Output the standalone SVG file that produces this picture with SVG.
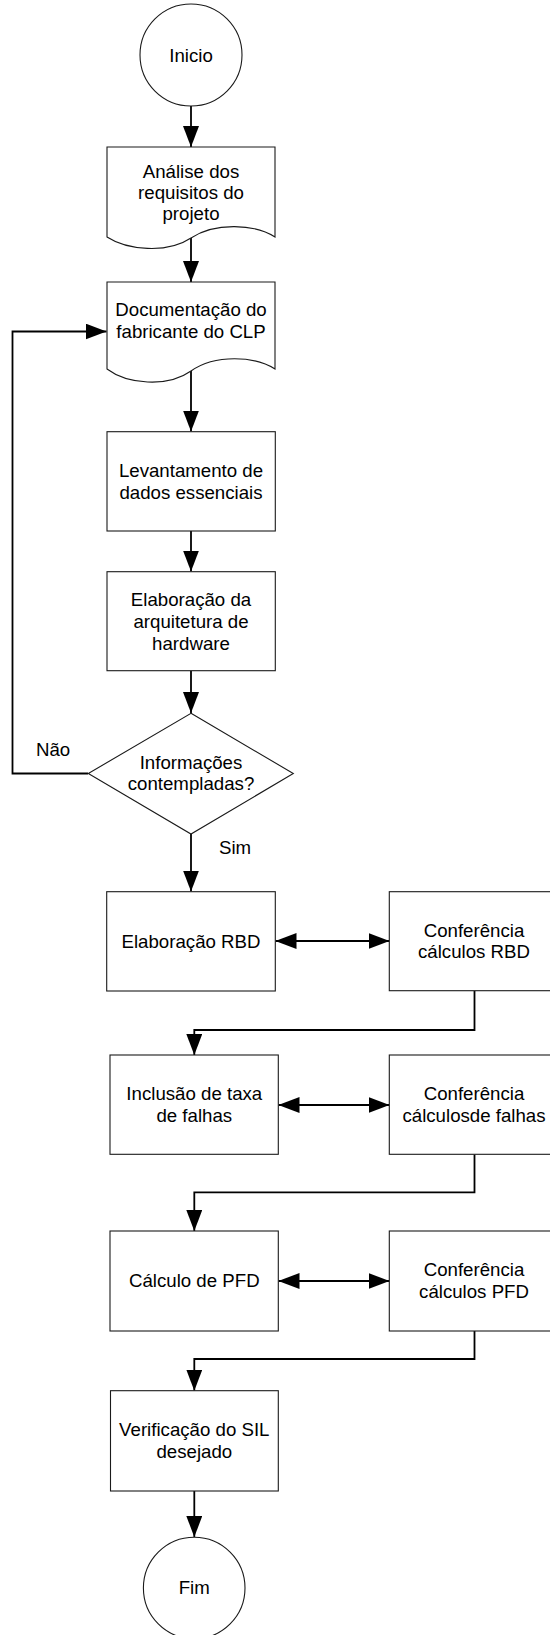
<svg xmlns="http://www.w3.org/2000/svg" width="550" height="1635" viewBox="0 0 550 1635">
  <style>
    .shape { fill: #ffffff; stroke: #1a1a1a; stroke-width: 1.1; }
    .wire { fill: none; stroke: #000000; stroke-width: 1.8; }
    .lbl { font-family: "Liberation Sans", Arial, sans-serif; font-size: 18.67px; fill: #000000; text-anchor: middle; }
    .side { font-family: "Liberation Sans", Arial, sans-serif; font-size: 18.67px; fill: #000000; }
  </style>
  <defs>
    <marker id="head" viewBox="0 0 21 16" refX="21" refY="8" markerWidth="21" markerHeight="16" markerUnits="userSpaceOnUse" orient="auto-start-reverse">
      <path d="M0,0 L21,8 L0,16 Z" fill="#000000"/>
    </marker>
  </defs>
  <rect width="550" height="1635" fill="#ffffff"/>

  <!-- connectors -->
  <g id="connectors">
    <path class="wire" d="M191,106 V147" marker-end="url(#head)"/>
    <path class="wire" d="M191,238 V282" marker-end="url(#head)"/>
    <path class="wire" d="M191,371 V431.5" marker-end="url(#head)"/>
    <path class="wire" d="M191,531 V571.5" marker-end="url(#head)"/>
    <path class="wire" d="M191,671 V713" marker-end="url(#head)"/>
    <path class="wire" d="M191,834 V891.5" marker-end="url(#head)"/>
    <path class="wire" d="M88,773.5 H12.5 V331.5 H106.5" marker-end="url(#head)"/>
    <path class="wire" d="M275.5,941 H389.5" marker-start="url(#head)" marker-end="url(#head)"/>
    <path class="wire" d="M474.5,991 V1030 H194.3 V1055" marker-end="url(#head)"/>
    <path class="wire" d="M278.5,1105 H389.5" marker-start="url(#head)" marker-end="url(#head)"/>
    <path class="wire" d="M474.5,1154.5 V1192.3 H194.3 V1231" marker-end="url(#head)"/>
    <path class="wire" d="M278.5,1281 H389.5" marker-start="url(#head)" marker-end="url(#head)"/>
    <path class="wire" d="M474.5,1331 V1359 H194.3 V1390.7" marker-end="url(#head)"/>
    <path class="wire" d="M194.3,1491 V1537" marker-end="url(#head)"/>
  </g>

  <g id="inicio">
    <circle class="shape" cx="191" cy="55" r="51"/>
    <text class="lbl" x="191" y="62.3">Inicio</text>
  </g>

  <g id="analise">
    <path class="shape" d="M107,147 H275 V237 C255,224 215,222 191,238 C167,254 127,250 107,237 Z"/>
    <text class="lbl" x="191" y="178">Análise dos</text>
    <text class="lbl" x="191" y="199">requisitos do</text>
    <text class="lbl" x="191" y="219.5">projeto</text>
  </g>

  <g id="documentacao">
    <path class="shape" d="M107,282 H275 V369 C255,356 215,354 191,371 C167,388 127,384 107,369 Z"/>
    <text class="lbl" x="191" y="316">Documentação do</text>
    <text class="lbl" x="191" y="338">fabricante do CLP</text>
  </g>

  <g id="levantamento">
    <rect class="shape" x="107" y="431.7" width="168.3" height="99.3"/>
    <text class="lbl" x="191" y="477">Levantamento de</text>
    <text class="lbl" x="191" y="498.5">dados essenciais</text>
  </g>

  <g id="arquitetura">
    <rect class="shape" x="107" y="571.7" width="168.3" height="99"/>
    <text class="lbl" x="191" y="605.5">Elaboração da</text>
    <text class="lbl" x="191" y="627.5">arquitetura de</text>
    <text class="lbl" x="191" y="649.5">hardware</text>
  </g>

  <g id="decisao">
    <polygon class="shape" points="191,713.3 293.3,773.5 191,834 88.3,773.5"/>
    <text class="lbl" x="191" y="768.5">Informações</text>
    <text class="lbl" x="191" y="790">contempladas?</text>
    <text class="side" x="36" y="756">Não</text>
    <text class="side" x="219" y="854">Sim</text>
  </g>

  <g id="elaboracao-rbd">
    <rect class="shape" x="106.7" y="891.7" width="168.6" height="99.3"/>
    <text class="lbl" x="191" y="947.5">Elaboração RBD</text>
  </g>

  <g id="conferencia-rbd">
    <rect class="shape" x="389.3" y="891.7" width="170" height="99"/>
    <text class="lbl" x="474" y="936.5">Conferência</text>
    <text class="lbl" x="474" y="958.3">cálculos RBD</text>
  </g>

  <g id="inclusao">
    <rect class="shape" x="110" y="1055" width="168.3" height="99.3"/>
    <text class="lbl" x="194.3" y="1099.5">Inclusão de taxa</text>
    <text class="lbl" x="194.3" y="1121.5">de falhas</text>
  </g>

  <g id="conferencia-falhas">
    <rect class="shape" x="389.3" y="1055" width="170" height="99.3"/>
    <text class="lbl" x="474" y="1100">Conferência</text>
    <text class="lbl" x="474" y="1121.7">cálculosde falhas</text>
  </g>

  <g id="calculo-pfd">
    <rect class="shape" x="110" y="1231" width="168.3" height="100"/>
    <text class="lbl" x="194.3" y="1287">Cálculo de PFD</text>
  </g>

  <g id="conferencia-pfd">
    <rect class="shape" x="389.3" y="1231" width="170" height="100"/>
    <text class="lbl" x="474" y="1276">Conferência</text>
    <text class="lbl" x="474" y="1297.7">cálculos PFD</text>
  </g>

  <g id="verificacao">
    <rect class="shape" x="110.5" y="1390.7" width="167.8" height="100.3"/>
    <text class="lbl" x="194.3" y="1436">Verificação do SIL</text>
    <text class="lbl" x="194.3" y="1457.5">desejado</text>
  </g>

  <g id="fim">
    <circle class="shape" cx="194.2" cy="1588" r="50.8"/>
    <text class="lbl" x="194.2" y="1594">Fim</text>
  </g>
</svg>
